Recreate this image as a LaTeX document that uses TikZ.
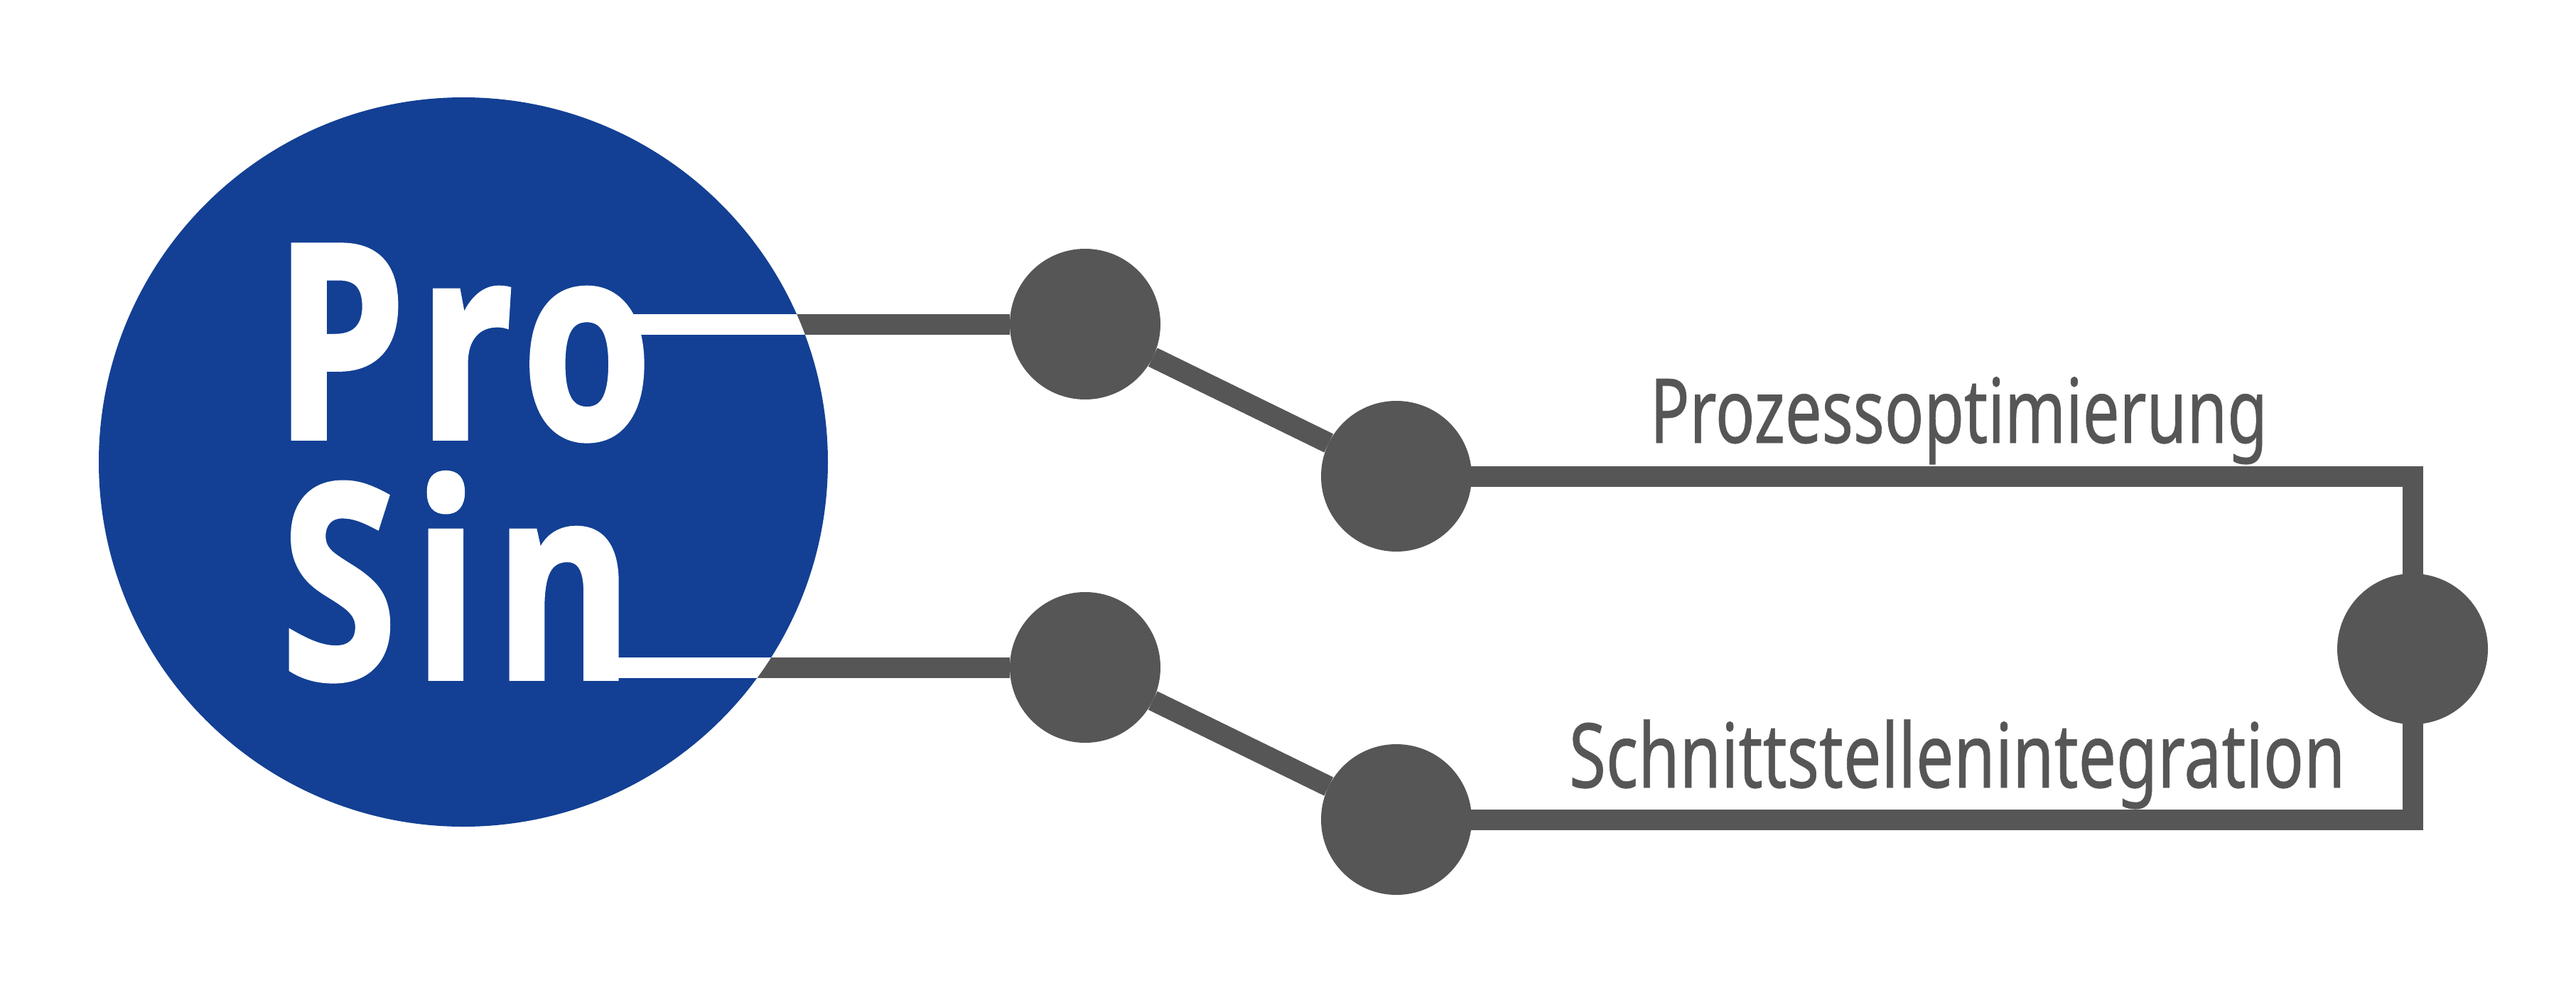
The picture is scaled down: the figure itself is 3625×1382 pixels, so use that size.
\documentclass[tikz,border=0pt]{standalone}
\usepackage{fontspec}
\setmainfont{Noto Sans}
\newfontfamily\logofont[FakeStretch=0.77,FakeBold=1.5,LetterSpace=4.8,Ligatures=NoCommon]{Open Sans Bold}
\newfontfamily\logofontb[FakeStretch=0.77,FakeBold=1.5,LetterSpace=6.4,Ligatures=NoCommon]{Open Sans Bold}
\newfontfamily\labelfonta[FakeStretch=0.73,FakeBold=0.5,Ligatures=NoCommon]{Noto Sans}
\newfontfamily\labelfontb[FakeStretch=0.75,FakeBold=0.5,Ligatures=NoCommon]{Noto Sans}
\definecolor{logoblue}{HTML}{134094}
\definecolor{netgrey}{HTML}{565656}
\tikzset{
  x=0.5pt,y=-0.5pt,
  hub/.style={circle,fill=netgrey,draw=none,minimum size=106pt,inner sep=0pt,outer sep=0pt},
  logodisc/.style={circle,fill=logoblue,draw=none,minimum size=513pt,inner sep=0pt,outer sep=0pt},
  link/.style={draw=netgrey,line width=14.5pt,line join=miter},
  whitebar/.style={draw=white,line width=14.5pt},
  logotext/.style={text=white,inner sep=0pt,outer sep=0pt,anchor=base west},
  busLabel/.style={text=netgrey,inner sep=0pt,outer sep=0pt,anchor=base west},
}
\begin{document}
\begin{tikzpicture}
\useasboundingbox (0,0) rectangle (3625,1382);
\fill[white] (0,0) rectangle (3625,1382);
\coordinate (pa) at (882,456);
\coordinate (pb) at (870,939);
\coordinate (corner) at (3395,670);
\coordinate (cornerb) at (3395,1153);
\node[hub] (n1) at (1527,456) {};
\node[hub] (n2) at (1965,670) {};
\node[hub] (n3) at (1527,939) {};
\node[hub] (n4) at (1965,1153) {};
\node[hub] (n5) at (3395,913) {};
\draw[link] (pa) -- (n1);
\draw[link] (pb) -- (n3);
\draw[link] (n1) -- (n2);
\draw[link] (n3) -- (n4);
\draw[link] (n2.center) -- (corner) -- (n5.center);
\draw[link] (n4.center) -- (cornerb) -- (n5.center);
\node[logodisc] (logo) at (652,650) {};
\begin{scope}
\clip (logo.center) circle (513);
\draw[whitebar] (pa) -- (n1);
\draw[whitebar] (pb) -- (n3);
\end{scope}
\node[logotext,font=\logofont\fontsize{191}{191}\selectfont] (pro) at (386,617) {Pro};
\node[logotext,font=\logofontb\fontsize{191}{191}\selectfont] (sin) at (396,955) {Sin};
\node[busLabel,font=\labelfonta\fontsize{63}{70}\selectfont] (t1) at (2322,623) {Prozessoptimierung};
\node[busLabel,font=\labelfontb\fontsize{63}{70}\selectfont] (t2) at (2208,1108) {Schnittstellenintegration};
\end{tikzpicture}
\end{document}
